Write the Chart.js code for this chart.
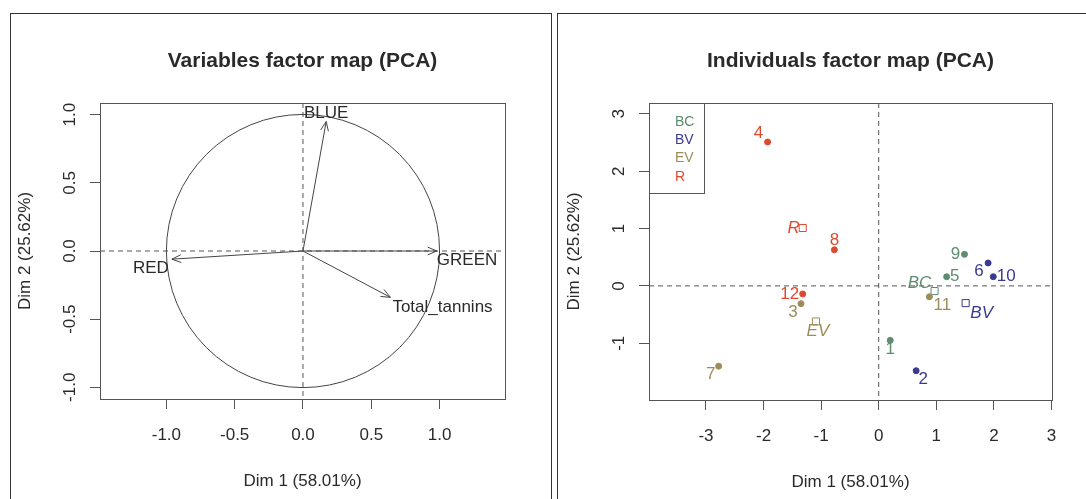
<!DOCTYPE html>
<html>
<head>
<meta charset="utf-8">
<script src="https://cdn.jsdelivr.net/npm/chart.js@4/dist/chart.umd.min.js"></script>
<style>
  body { margin: 0; background: #fff; width: 1086px; height: 499px; overflow: hidden; position: relative; }
  canvas { position: absolute; top: 0; }
  .panel { position: absolute; border: 1.5px solid #333; }
</style>
</head>
<body>
<div class="panel" style="left:10px;top:13px;width:540px;height:600px"></div>
<div class="panel" style="left:557px;top:13px;width:600px;height:600px"></div>
<canvas id="vars" width="555" height="499" style="left:0"></canvas>
<canvas id="inds" width="531" height="499" style="left:555px"></canvas>
<script>
// variables map
const varNames = ["RED", "BLUE", "GREEN", "Total_tannins"];
const varDim1 = [-0.96, 0.17, 0.98, 0.64];
const varDim2 = [-0.06, 0.95, 0.0, -0.34];
const varTicks = [-1, -0.5, 0, 0.5, 1];

// individuals map
const indNames = ["1", "2", "3", "4", "5", "6", "7", "8", "9", "10", "11", "12"];
const indGroup = ["BC", "BV", "EV", "R", "BC", "BV", "EV", "R", "BC", "BV", "EV", "R"];
const indDim1 = [0.20, 0.65, -1.35, -1.93, 1.18, 1.90, -2.78, -0.77, 1.49, 1.99, 0.88, -1.32];
const indDim2 = [-0.95, -1.48, -0.31, 2.51, 0.16, 0.40, -1.40, 0.63, 0.55, 0.16, -0.19, -0.14];
const groups = ["BC", "BV", "EV", "R"];
const groupDim1 = [0.97, 1.51, -1.09, -1.32];
const groupDim2 = [-0.09, -0.30, -0.62, 1.01];
const indXTicks = [-3, -2, -1, 0, 1, 2, 3];
const indYTicks = [-1, 0, 1, 2, 3];

const colors = { BC: "#5e8c6e", BV: "#3c3a8e", EV: "#9c8c58", R: "#dc4a2e" };
const FONT = '"Liberation Sans", Arial, Helvetica, sans-serif';
const INK = "#2a2a2a";

// where labels sit relative to their mark (px)
const varLabelPos = [[-3, 9, "right"], [0, -8, "center"], [0, 9, "left"], [2, 10, "left"]];
const indLabelOff = [[0, 9], [7, 9], [-8, 9], [-9, -9], [8, 0], [-9, 8], [-8, 8], [0, -9], [-9, 0], [13, 0], [13, 9], [-13, 0]];
const groupLabelOff = [[-15, -8], [16, 10], [2, 10], [-9, 0]];

function axis(min, max, ticks, isY) {
  return {
    type: "linear",
    min: min,
    max: max,
    afterBuildTicks: (s) => { s.ticks = ticks.map((v) => ({ value: v })); },
    afterFit: (s) => { if (isY) s.width = 60; else s.height = 50; },
    ticks: { display: false },
    grid: { drawOnChartArea: false, drawTicks: true, tickLength: 10, color: "#555", lineWidth: 1 },
    border: { display: true, color: "#555", width: 1 },
  };
}

function text(ctx, s, x, y, font, color, align) {
  ctx.font = font;
  ctx.fillStyle = color || INK;
  ctx.textAlign = align || "center";
  ctx.textBaseline = "middle";
  ctx.fillText(s, x, y);
}

// frame, titles and tick labels, same look as the R plot
function frame(title, fmt) {
  return {
    id: "frame",
    afterDraw(chart) {
      const ctx = chart.ctx;
      const a = chart.chartArea;
      const x = chart.scales.x;
      const y = chart.scales.y;
      ctx.save();
      ctx.strokeStyle = "#555";
      ctx.lineWidth = 1;
      ctx.strokeRect(a.left + 0.5, a.top + 0.5, a.right - a.left, a.bottom - a.top);
      text(ctx, title, (a.left + a.right) / 2, 61, "bold 21px " + FONT);
      x.ticks.forEach((t) => text(ctx, fmt(t.value), x.getPixelForValue(t.value), a.bottom + 36, "17px " + FONT));
      y.ticks.forEach((t) => {
        ctx.save();
        ctx.translate(a.left - 30, y.getPixelForValue(t.value));
        ctx.rotate(-Math.PI / 2);
        text(ctx, fmt(t.value), 0, 0, "17px " + FONT);
        ctx.restore();
      });
      text(ctx, "Dim 1 (58.01%)", (a.left + a.right) / 2, a.bottom + 82, "17px " + FONT);
      ctx.save();
      ctx.translate(a.left - 75, (a.top + a.bottom) / 2);
      ctx.rotate(-Math.PI / 2);
      text(ctx, "Dim 2 (25.62%)", 0, 0, "17px " + FONT);
      ctx.restore();
      ctx.restore();
    },
  };
}

function zeroLines(chart) {
  const ctx = chart.ctx;
  const a = chart.chartArea;
  const x0 = chart.scales.x.getPixelForValue(0);
  const y0 = chart.scales.y.getPixelForValue(0);
  ctx.save();
  ctx.strokeStyle = "#555";
  ctx.lineWidth = 1;
  ctx.setLineDash([5, 4]);
  ctx.beginPath();
  ctx.moveTo(a.left, y0);
  ctx.lineTo(a.right, y0);
  ctx.moveTo(x0, a.top);
  ctx.lineTo(x0, a.bottom);
  ctx.stroke();
  ctx.restore();
}

const varPlugin = {
  id: "varPlugin",
  beforeDatasetsDraw(chart) {
    zeroLines(chart);
    const ctx = chart.ctx;
    const x = chart.scales.x;
    const y = chart.scales.y;
    const cx = x.getPixelForValue(0);
    const cy = y.getPixelForValue(0);
    ctx.save();
    ctx.strokeStyle = "#444";
    ctx.lineWidth = 1;
    ctx.beginPath();
    ctx.arc(cx, cy, x.getPixelForValue(1) - cx, 0, Math.PI * 2);
    ctx.stroke();
    ctx.restore();
  },
  afterDatasetsDraw(chart) {
    const ctx = chart.ctx;
    const x = chart.scales.x;
    const y = chart.scales.y;
    const cx = x.getPixelForValue(0);
    const cy = y.getPixelForValue(0);
    ctx.save();
    ctx.strokeStyle = "#444";
    ctx.lineWidth = 1;
    varNames.forEach((name, i) => {
      const px = x.getPixelForValue(varDim1[i]);
      const py = y.getPixelForValue(varDim2[i]);
      const ang = Math.atan2(py - cy, px - cx);
      ctx.beginPath();
      ctx.moveTo(px - 10 * Math.cos(ang - 0.4), py - 10 * Math.sin(ang - 0.4));
      ctx.lineTo(px, py);
      ctx.lineTo(px - 10 * Math.cos(ang + 0.4), py - 10 * Math.sin(ang + 0.4));
      ctx.stroke();
      const p = varLabelPos[i];
      text(ctx, name, px + p[0], py + p[1], "17px " + FONT, INK, p[2]);
    });
    ctx.restore();
  },
};

new Chart(document.getElementById("vars"), {
  type: "scatter",
  data: {
    datasets: varNames.map((name, i) => ({
      label: name,
      data: [{ x: 0, y: 0 }, { x: varDim1[i], y: varDim2[i] }],
      showLine: true,
      borderColor: "#444",
      borderWidth: 1,
      pointRadius: 0,
    })),
  },
  options: {
    responsive: false,
    animation: false,
    layout: { padding: { left: 40, right: 50, top: 103, bottom: 50 } },
    plugins: { legend: { display: false }, tooltip: { enabled: false } },
    scales: { x: axis(-1.486, 1.479, varTicks, false), y: axis(-1.086, 1.086, varTicks, true) },
  },
  plugins: [varPlugin, frame("Variables factor map (PCA)", (v) => v.toFixed(1))],
});

const indPlugin = {
  id: "indPlugin",
  beforeDatasetsDraw(chart) {
    zeroLines(chart);
  },
  afterDatasetsDraw(chart) {
    const ctx = chart.ctx;
    const a = chart.chartArea;
    const x = chart.scales.x;
    const y = chart.scales.y;
    ctx.save();
    indNames.forEach((name, i) => {
      const o = indLabelOff[i];
      text(ctx, name, x.getPixelForValue(indDim1[i]) + o[0], y.getPixelForValue(indDim2[i]) + o[1], "17px " + FONT, colors[indGroup[i]]);
    });
    groups.forEach((g, i) => {
      const o = groupLabelOff[i];
      text(ctx, g, x.getPixelForValue(groupDim1[i]) + o[0], y.getPixelForValue(groupDim2[i]) + o[1], "italic 17px " + FONT, colors[g]);
    });
    // legend box in the top left corner
    ctx.fillStyle = "#fff";
    ctx.fillRect(a.left, a.top, 55, 90);
    ctx.strokeStyle = "#555";
    ctx.lineWidth = 1;
    ctx.strokeRect(a.left + 0.5, a.top + 0.5, 55, 90);
    groups.forEach((g, i) => text(ctx, g, a.left + 26, a.top + 19 + i * 18.3, "14px " + FONT, colors[g], "left"));
    ctx.restore();
  },
};

const indSets = groups.map((g) => ({
  label: g,
  data: indNames.filter((n, i) => indGroup[i] === g).map((n) => {
    const i = indNames.indexOf(n);
    return { x: indDim1[i], y: indDim2[i] };
  }),
  backgroundColor: colors[g],
  borderColor: colors[g],
  pointRadius: 3,
}));
const meanSet = {
  label: "means",
  data: groups.map((g, i) => ({ x: groupDim1[i], y: groupDim2[i] })),
  pointStyle: "rect",
  pointRadius: 5,
  backgroundColor: "#fff",
  borderColor: groups.map((g) => colors[g]),
  borderWidth: 1,
};

new Chart(document.getElementById("inds"), {
  type: "scatter",
  data: { datasets: indSets.concat([meanSet]) },
  options: {
    responsive: false,
    animation: false,
    layout: { padding: { left: 34, right: 34, top: 103, bottom: 49 } },
    plugins: { legend: { display: false }, tooltip: { enabled: false } },
    scales: { x: axis(-3.99, 3.01, indXTicks, false), y: axis(-1.99, 3.19, indYTicks, true) },
  },
  plugins: [indPlugin, frame("Individuals factor map (PCA)", (v) => String(v))],
});
</script>
</body>
</html>
